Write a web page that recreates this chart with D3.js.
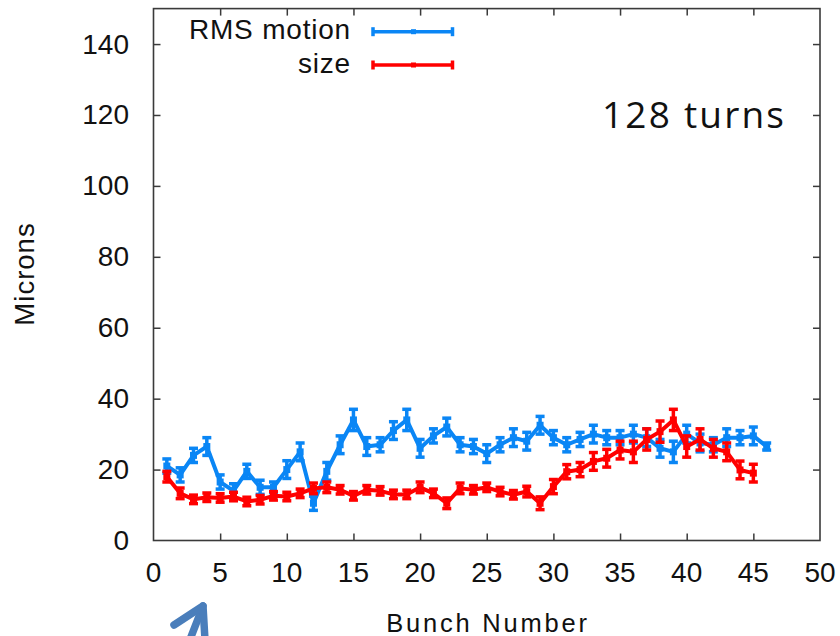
<!DOCTYPE html>
<html>
<head>
<meta charset="utf-8">
<script src="https://cdn.jsdelivr.net/npm/d3@7"></script>
<style>
  body { margin: 0; background: #fff; }
  svg text { font-family: "Liberation Sans", Arial, sans-serif; fill: #111; }
</style>
</head>
<body>
<svg id="chart" width="840" height="636"></svg>
<script>
// --- chart data ---
var bunchBlue = d3.range(1, 47);           // RMS motion has 46 bunches
var bunchRed  = d3.range(1, 46);           // size has 45 bunches

var rmsMotion = [21, 18.5, 24, 26.5, 16.5, 14, 19.5, 15, 15, 20,
                 25, 10.5, 19.5, 27, 34, 26.5, 27, 31, 34, 26,
                 29.5, 32, 27, 26.5, 24.5, 27, 29, 28, 32.5, 29,
                 27, 28.5, 30, 29, 29, 30, 29, 26, 25, 30,
                 27.5, 27, 29, 29, 29.5, 26.5];
var rmsErr    = [2, 2, 2, 2.5, 2, 2, 2, 2, 1.5, 2.5,
                 2.5, 2, 2.5, 2.5, 3, 2.5, 2, 2.5, 3, 2.5,
                 2, 2.5, 2, 2, 2.5, 2, 2.5, 2.5, 2.5, 2,
                 2, 2, 2.5, 2, 2, 2.5, 2.5, 2.5, 3, 2.5,
                 2.5, 2, 2.5, 2, 2.5, 1];

var beamSize  = [18, 13.3, 11.6, 12.2, 12, 12.4, 11, 11.5, 12.6, 12.4,
                 13.3, 14.7, 15, 14.3, 12.6, 14.3, 14, 13, 13, 15,
                 13.3, 10.5, 14.7, 14.3, 15, 13.8, 12.9, 13.8, 10.5, 15.2,
                 19.4, 20, 22.3, 23.2, 25.5, 25, 28.5, 30.7, 34, 26.5,
                 28.5, 26, 25, 19.9, 19];
var sizeErr   = [1.5, 1.5, 1.2, 1.2, 1.2, 1.2, 1.2, 1.2, 1.2, 1.2,
                 1.2, 1.5, 1.5, 1.2, 1.2, 1.2, 1.2, 1.2, 1.2, 1.5,
                 1.2, 1.5, 1.5, 1.2, 1.2, 1.2, 1.2, 1.5, 1.8, 2,
                 2, 2, 2.5, 2.5, 2.5, 3, 3, 3, 3, 3,
                 3, 2.5, 2.5, 2.5, 2.5];

var xTicks = [0, 5, 10, 15, 20, 25, 30, 35, 40, 45, 50];
var yTicks = [0, 20, 40, 60, 80, 100, 120, 140];

// --- layout ---
var svg = d3.select('#chart');
var plotLeft = 153.5, plotRight = 820, plotTop = 8.6, plotBottom = 540.5;

var x = d3.scaleLinear().domain([0, 50]).range([plotLeft, plotRight]);
var y = d3.scaleLinear().domain([0, 150]).range([plotBottom, plotTop]);

var frameColor = '#3a3a3a';
var tickLen = 7;

// axes: ticks pointing inward on all four sides (gnuplot style)
function noDomain(g) { g.select('.domain').remove(); }
svg.append('g')
  .attr('transform', 'translate(0,' + plotBottom + ')')
  .call(d3.axisTop(x).tickValues(xTicks.slice(1, -1)).tickSize(tickLen).tickFormat(''))
  .call(noDomain);
svg.append('g')
  .attr('transform', 'translate(0,' + plotTop + ')')
  .call(d3.axisBottom(x).tickValues(xTicks.slice(1, -1)).tickSize(tickLen).tickFormat(''))
  .call(noDomain);
svg.append('g')
  .attr('transform', 'translate(' + plotLeft + ',0)')
  .call(d3.axisRight(y).tickValues(yTicks.slice(1)).tickSize(tickLen).tickFormat(''))
  .call(noDomain);
svg.append('g')
  .attr('transform', 'translate(' + plotRight + ',0)')
  .call(d3.axisLeft(y).tickValues(yTicks.slice(1)).tickSize(tickLen).tickFormat(''))
  .call(noDomain);
svg.selectAll('.tick line').attr('stroke', frameColor).attr('stroke-width', 1.5);

// frame
svg.append('rect')
  .attr('x', plotLeft).attr('y', plotTop)
  .attr('width', plotRight - plotLeft).attr('height', plotBottom - plotTop)
  .attr('fill', 'none').attr('stroke', frameColor).attr('stroke-width', 1.6);

// tick labels
svg.append('g').selectAll('text')
  .data(xTicks).enter().append('text')
  .attr('x', function(d) { return x(d); })
  .attr('y', 582)
  .attr('text-anchor', 'middle')
  .attr('font-size', 28)
  .text(function(d) { return d; });

svg.append('g').selectAll('text')
  .data(yTicks).enter().append('text')
  .attr('x', 129)
  .attr('y', function(d) { return y(d) + 9.5; })
  .attr('text-anchor', 'end')
  .attr('font-size', 28)
  .text(function(d) { return d; });

// axis titles
svg.append('text')
  .attr('x', 488).attr('y', 632)
  .attr('text-anchor', 'middle')
  .attr('font-size', 25.5)
  .attr('letter-spacing', 2.8)
  .text('Bunch Number');

svg.append('text')
  .attr('transform', 'translate(34,274) rotate(-90)')
  .attr('text-anchor', 'middle')
  .attr('font-size', 27.5)
  .attr('letter-spacing', 1)
  .text('Microns');

// annotation
svg.append('text')
  .attr('x', 602).attr('y', 127.5)
  .attr('font-size', 37)
  .attr('letter-spacing', 2.2)
  .style('font-family', '"Open Sans", "Noto Sans", sans-serif')
  .style('font-weight', 500)
  .text('128 turns');

// --- series: line + error bars ---
function drawSeries(xs, vals, errs, color) {
  var pts = xs.map(function(b, i) { return { b: b, v: vals[i], e: errs[i] }; });
  var g = svg.append('g');

  g.append('path')
    .datum(pts)
    .attr('fill', 'none')
    .attr('stroke', color)
    .attr('stroke-width', 4)
    .attr('stroke-linejoin', 'round')
    .attr('d', d3.line().x(function(d) { return x(d.b); }).y(function(d) { return y(d.v); }));

  var bars = g.selectAll('g.eb').data(pts).enter().append('g').attr('class', 'eb')
    .attr('stroke', color).attr('stroke-width', 3.5);
  bars.append('line')
    .attr('x1', function(d) { return x(d.b); }).attr('x2', function(d) { return x(d.b); })
    .attr('y1', function(d) { return y(d.v - d.e); }).attr('y2', function(d) { return y(d.v + d.e); });
  bars.append('line')
    .attr('x1', function(d) { return x(d.b) - 4.5; }).attr('x2', function(d) { return x(d.b) + 4.5; })
    .attr('y1', function(d) { return y(d.v + d.e); }).attr('y2', function(d) { return y(d.v + d.e); });
  bars.append('line')
    .attr('x1', function(d) { return x(d.b) - 4.5; }).attr('x2', function(d) { return x(d.b) + 4.5; })
    .attr('y1', function(d) { return y(d.v - d.e); }).attr('y2', function(d) { return y(d.v - d.e); });
  g.selectAll('rect').data(pts).enter().append('rect')
    .attr('x', function(d) { return x(d.b) - 3.5; })
    .attr('y', function(d) { return y(d.v) - 3.5; })
    .attr('width', 7).attr('height', 7)
    .attr('fill', color);
}

var blue = '#0a86f5';
var red = '#ff0000';
drawSeries(bunchBlue, rmsMotion, rmsErr, blue);
drawSeries(bunchRed, beamSize, sizeErr, red);

// --- legend ---
var legend = [
  { label: 'RMS motion', color: blue, y: 31.7, base: 39.3 },
  { label: 'size', color: red, y: 65, base: 72.7 }
];
legend.forEach(function(item) {
  svg.append('text')
    .attr('x', 351).attr('y', item.base)
    .attr('text-anchor', 'end')
    .attr('font-size', 28)
    .attr('letter-spacing', 0.8)
    .text(item.label);
  var lg = svg.append('g').attr('stroke', item.color).attr('stroke-width', 3.5);
  lg.append('line').attr('x1', 373).attr('x2', 452.5).attr('y1', item.y).attr('y2', item.y);
  lg.append('line').attr('x1', 373).attr('x2', 373).attr('y1', item.y - 4.5).attr('y2', item.y + 4.5);
  lg.append('line').attr('x1', 452.5).attr('x2', 452.5).attr('y1', item.y - 4.5).attr('y2', item.y + 4.5);
  svg.append('rect').attr('x', 411).attr('y', item.y - 2.5).attr('width', 5).attr('height', 5)
    .attr('fill', item.color);
});

// --- arrow at the bottom left (slide annotation) ---
var arrow = svg.append('g')
  .attr('stroke', '#4a7ebb').attr('stroke-width', 7.5)
  .attr('stroke-linecap', 'round').attr('stroke-linejoin', 'round').attr('fill', 'none');
arrow.append('path').attr('d', 'M182,660 L203,606');
arrow.append('path').attr('d', 'M174,625 L203,606 L205,640');
</script>
</body>
</html>
